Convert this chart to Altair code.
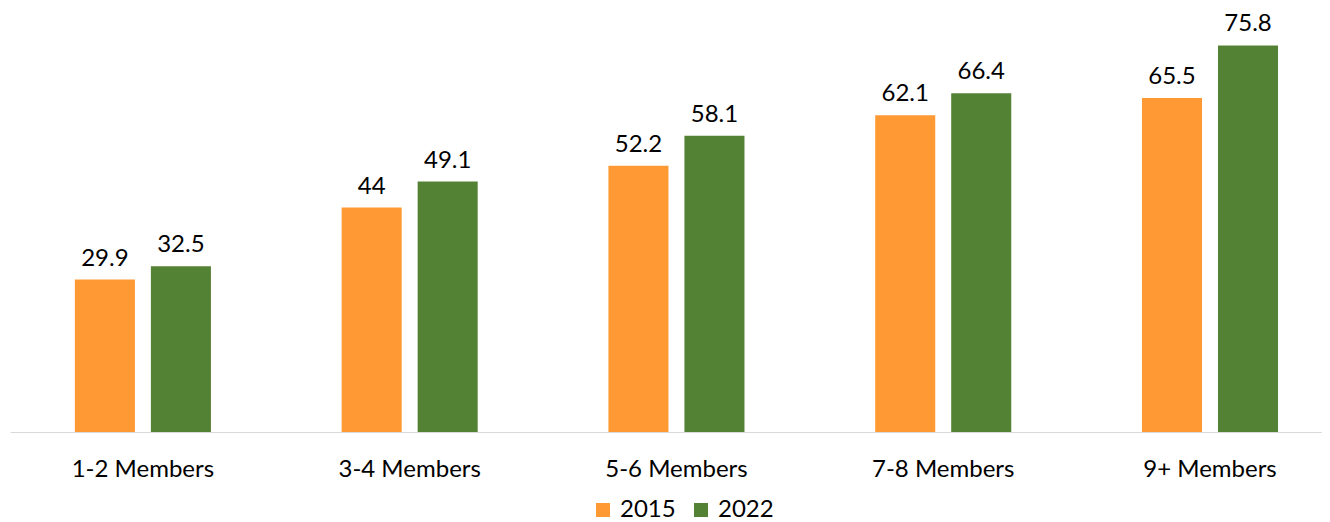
import altair as alt
import pandas as pd

categories = ["1-2 Members", "3-4 Members", "5-6 Members", "7-8 Members", "9+ Members"]
years = ["2015", "2022"]
v2015 = [29.9, 44, 52.2, 62.1, 65.5]
v2022 = [32.5, 49.1, 58.1, 66.4, 75.8]

rows = []
for c, a, b in zip(categories, v2015, v2022):
    rows.append({"cat": c, "year": "2015", "value": a, "label": f"{a:g}"})
    rows.append({"cat": c, "year": "2022", "value": b, "label": f"{b:g}"})
df = pd.DataFrame(rows)

FONT = "Lato"
FS = 24

xenc = alt.X("cat:N", sort=categories, title=None,
             scale=alt.Scale(paddingInner=0.49, paddingOuter=0.204, align=0.596),
             axis=alt.Axis(labelAngle=0, ticks=False, tickSize=0, domainColor="#D9D9D9",
                           domainWidth=1, labelFont=FONT, labelFontSize=FS,
                           labelColor="#000000", labelBaseline="alphabetic",
                           labelPadding=44))
yenc = alt.Y("value:Q", scale=alt.Scale(domain=[0, 80]), axis=None)
xoff = alt.XOffset("year:N", scale=alt.Scale(paddingInner=0.21, paddingOuter=0))

bars = alt.Chart(df).mark_bar().encode(
    x=xenc, y=yenc, xOffset=xoff,
    color=alt.Color("year:N", scale=alt.Scale(domain=years, range=["#FF9933", "#548235"]),
                    legend=alt.Legend(title=None, orient="none", direction="horizontal",
                                      legendX=581, legendY=474, symbolType="square",
                                      symbolSize=196, symbolStrokeWidth=0,
                                      labelFont=FONT, labelFontSize=FS, labelColor="#000000",
                                      labelOffset=5, columnPadding=13, padding=0)),
)

text = alt.Chart(df).mark_text(font=FONT, fontSize=FS, baseline="alphabetic", dy=-14,
                               color="#000000").encode(
    x=alt.X("cat:N", sort=categories), y=yenc, xOffset=xoff, text="label:N")

chart = alt.layer(bars, text).properties(
    width=1312, height=408, background="#FFFFFF",
    padding={"left": 2, "top": 4, "right": 0, "bottom": 0},
).configure_view(stroke=None)

chart.save("out.html", embed_options={"renderer": "svg", "actions": False})
